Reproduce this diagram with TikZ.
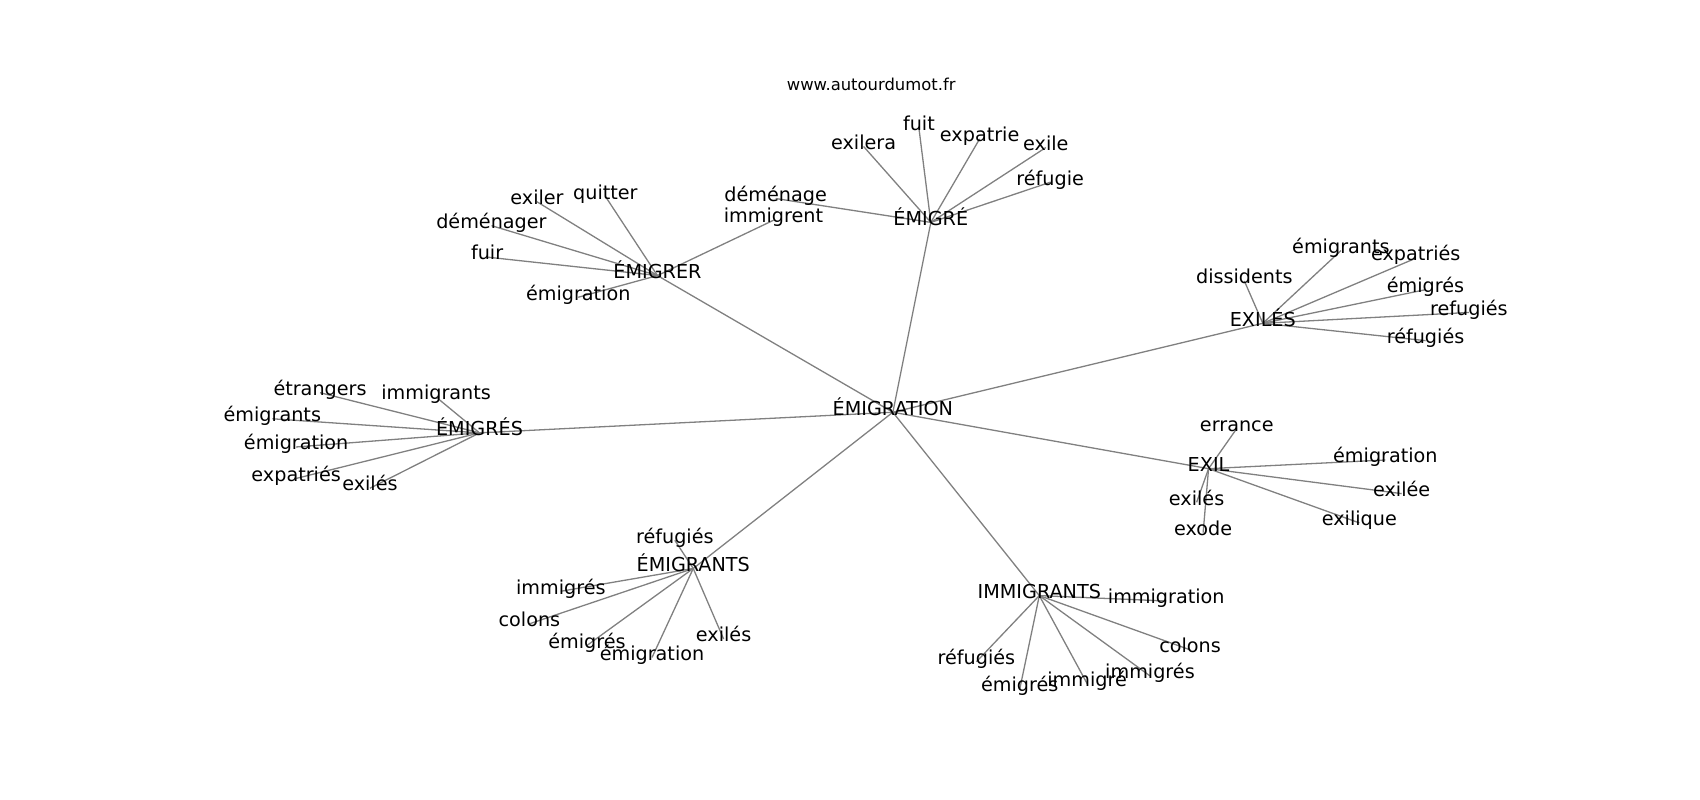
\documentclass[tikz,border=0pt]{standalone}
\usepackage{fontspec}
\setmainfont{DejaVu Sans}
\usepackage{tikz}
\usetikzlibrary{backgrounds}

\begin{document}
\begin{tikzpicture}[x=1.085pt, y=-1.085pt, every node/.style={inner sep=0pt, text height=0.76em, text depth=0.21em, font=\fontsize{19.2}{23}\selectfont}, link/.style={draw=black!50, line width=1.3pt}]
  \useasboundingbox (0,-4) rectangle (1567,733);
  \node (site) [font=\fontsize{16.4}{19}\selectfont] at (803,77) {www.autourdumot.fr};
  % hubs
  \node (emigration) at (823,376) {ÉMIGRATION};
  \node (emigre) at (858,201) {ÉMIGRÉ};
  \node (emigrer) at (606,250) {ÉMIGRER};
  \node (emigres) at (442,395) {ÉMIGRÉS};
  \node (emigrants) at (639,520) {ÉMIGRANTS};
  \node (immigrants) at (958,545) {IMMIGRANTS};
  \node (exil) at (1114,428) {EXIL};
  \node (exiles) at (1164,294) {EXILÉS};
  % around ÉMIGRÉ
  \node (a1) at (796,131) {exilera};
  \node (a2) at (847,114) {fuit};
  \node (a3) at (903,124) {expatrie};
  \node (a4) at (964,132) {exile};
  \node (a5) at (968,164) {réfugie};
  \node (a6) at (715,179) {déménage};
  % around ÉMIGRER
  \node (b1) at (713,199) {immigrent};
  \node (b2) at (558,177) {quitter};
  \node (b3) at (495,182) {exiler};
  \node (b4) at (453,204) {déménager};
  \node (b5) at (449,233) {fuir};
  \node (b6) at (533,270) {émigration};
  % around ÉMIGRÉS
  \node (c1) at (295,358) {étrangers};
  \node (c2) at (402,362) {immigrants};
  \node (c3) at (251,382) {émigrants};
  \node (c4) at (273,408) {émigration};
  \node (c5) at (273,437) {expatriés};
  \node (c6) at (341,446) {exilés};
  % around ÉMIGRANTS
  \node (d1) at (622,494) {réfugiés};
  \node (d2) at (517,541) {immigrés};
  \node (d3) at (488,571) {colons};
  \node (d4) at (541,591) {émigrés};
  \node (d5) at (601,602) {émigration};
  \node (d6) at (667,585) {exilés};
  % around IMMIGRANTS
  \node (e1) at (1075,550) {immigration};
  \node (e2) at (1097,595) {colons};
  \node (e3) at (900,606) {réfugiés};
  \node (e4) at (940,631) {émigrés};
  \node (e5) at (1002,626) {immigré};
  \node (e6) at (1060,619) {immigrés};
  % around EXIL
  \node (f1) at (1140,391) {errance};
  \node (f2) at (1277,420) {émigration};
  \node (f3) at (1292,451) {exilée};
  \node (f4) at (1253,478) {exilique};
  \node (f5) at (1103,459) {exilés};
  \node (f6) at (1109,487) {exode};
  % around EXILÉS
  \node (g1) at (1147,255) {dissidents};
  \node (g2) at (1236,227) {émigrants};
  \node (g3) at (1305,234) {expatriés};
  \node (g4) at (1314,263) {émigrés};
  \node (g5) at (1354,284) {refugiés};
  \node (g6) at (1314,310) {réfugiés};
  \begin{scope}[on background layer]
    \foreach \hub in {emigre, emigrer, emigres, emigrants, immigrants, exil, exiles}
      \draw [link] (emigration.center) -- (\hub.center);
    \foreach \leaf in {a1, a2, a3, a4, a5, a6}
      \draw [link] (emigre.center) -- (\leaf.center);
    \foreach \leaf in {b1, b2, b3, b4, b5, b6}
      \draw [link] (emigrer.center) -- (\leaf.center);
    \foreach \leaf in {c1, c2, c3, c4, c5, c6}
      \draw [link] (emigres.center) -- (\leaf.center);
    \foreach \leaf in {d1, d2, d3, d4, d5, d6}
      \draw [link] (emigrants.center) -- (\leaf.center);
    \foreach \leaf in {e1, e2, e3, e4, e5, e6}
      \draw [link] (immigrants.center) -- (\leaf.center);
    \foreach \leaf in {f1, f2, f3, f4, f5, f6}
      \draw [link] (exil.center) -- (\leaf.center);
    \foreach \leaf in {g1, g2, g3, g4, g5, g6}
      \draw [link] (exiles.center) -- (\leaf.center);
  \end{scope}
\end{tikzpicture}
\end{document}
